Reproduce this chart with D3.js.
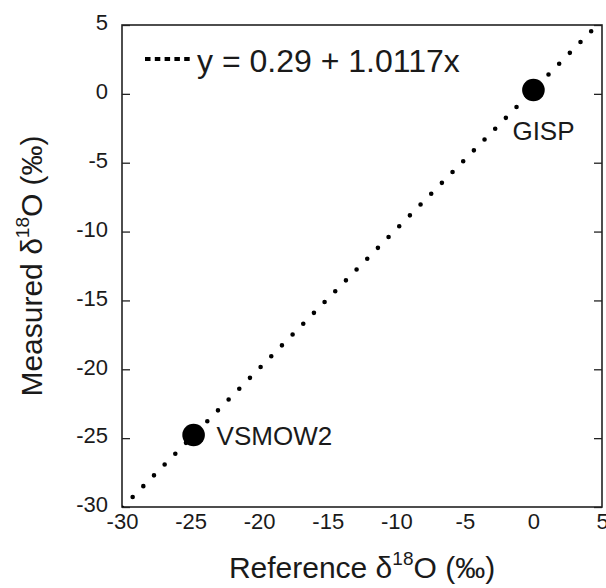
<!DOCTYPE html>
<html lang="en">
<head>
    <meta charset="UTF-8">
    <title>Measured vs reference d18O</title>
    <style>
        body { margin: 0; background: #fff; }
        text { font-family: "Liberation Sans", Arial, sans-serif; fill: #1a1a1a; }
    </style>
</head>
<body>
    <script src="https://d3js.org/d3.v7.min.js"></script>
    <div id="my_dataviz"></div>
    <script>
        // Data
        var sampleNames = ["VSMOW2", "GISP"]
        var referenceValues = [-24.78, 0.0]
        var measuredValues = [-24.77, 0.28]
        var fitIntercept = 0.29
        var fitSlope = 1.0117
        var tickValues = [-30, -25, -20, -15, -10, -5, 0, 5]

        var width = 606
        var height = 588
        var margin = { left: 122, top: 25, right: 4, bottom: 81 }
        var innerW = width - margin.left - margin.right
        var innerH = height - margin.top - margin.bottom

        var svg = d3.select("#my_dataviz")
            .append("svg")
            .attr("width", width)
            .attr("height", height)

        var g = svg.append("g")
            .attr("transform", "translate(" + margin.left + "," + margin.top + ")")

        var x = d3.scaleLinear().domain([-30, 5]).range([0, innerW])
        var y = d3.scaleLinear().domain([-30, 5]).range([innerH, 0])

        // clip for the fit line
        svg.append("defs").append("clipPath").attr("id", "plotclip")
            .append("rect").attr("width", innerW).attr("height", innerH)

        // plain hyphen minus like the original
        var fmt = function (d) { return String(d) }

        var axisStyle = function (sel) {
            sel.select(".domain").remove()
            sel.selectAll("line").attr("stroke", "#222").attr("stroke-width", 1.3)
            sel.selectAll("text").style("font-size", "22px").style("font-family", "Liberation Sans, Arial, sans-serif").attr("fill", "#1a1a1a")
        }

        g.append("g")
            .call(d3.axisLeft(y).tickValues(tickValues).tickSize(-8).tickPadding(14).tickFormat(fmt))
            .call(axisStyle)
            .selectAll("text").attr("dy", "0.22em")

        g.append("g")
            .attr("transform", "translate(" + innerW + ",0)")
            .call(d3.axisRight(y).tickValues(tickValues).tickSize(-8).tickFormat(""))
            .call(axisStyle)

        g.append("g")
            .attr("transform", "translate(0," + innerH + ")")
            .call(d3.axisBottom(x).tickValues(tickValues).tickSize(0).tickPadding(6).tickFormat(fmt))
            .call(axisStyle)

        // frame
        g.append("rect")
            .attr("width", innerW)
            .attr("height", innerH)
            .attr("fill", "none")
            .attr("stroke", "#222")
            .attr("stroke-width", 1.6)

        // fit line (dotted)
        var lineData = [-30, 5].map(function (v) { return [v, fitIntercept + fitSlope * v] })
        g.append("path")
            .datum(lineData)
            .attr("clip-path", "url(#plotclip)")
            .attr("d", d3.line().x(function (d) { return x(d[0]) }).y(function (d) { return y(d[1]) }))
            .attr("fill", "none")
            .attr("stroke", "#000")
            .attr("stroke-width", 4.6)
            .attr("stroke-linecap", "round")
            .attr("stroke-dasharray", "0,15.2")

        // points
        var points = sampleNames.map(function (n, i) {
            return { name: n, ref: referenceValues[i], meas: measuredValues[i] }
        })

        g.selectAll("circle.pt")
            .data(points)
            .enter()
            .append("circle")
            .attr("class", "pt")
            .attr("cx", function (d) { return x(d.ref) })
            .attr("cy", function (d) { return y(d.meas) })
            .attr("r", 11.3)
            .attr("fill", "#000")

        // point labels
        var labelOffset = { VSMOW2: [23, 10], GISP: [-21, 50] }
        g.selectAll("text.pt")
            .data(points)
            .enter()
            .append("text")
            .attr("class", "pt")
            .attr("x", function (d) { return x(d.ref) + labelOffset[d.name][0] })
            .attr("y", function (d) { return y(d.meas) + labelOffset[d.name][1] })
            .style("font-size", "26px")
            .text(function (d) { return d.name })

        // legend
        svg.append("line")
            .attr("x1", 145).attr("x2", 194)
            .attr("y1", 59).attr("y2", 59)
            .attr("stroke", "#000")
            .attr("stroke-width", 4)
            .attr("stroke-dasharray", "5.5,4.3")

        svg.append("text")
            .attr("x", 197)
            .attr("y", 72)
            .style("font-size", "32px")
            .text("y = " + fitIntercept + " + " + fitSlope + "x")

        // axis titles
        var xTitle = svg.append("text")
            .attr("x", margin.left + innerW / 2)
            .attr("y", 578)
            .attr("text-anchor", "middle")
            .style("font-size", "30px")
        xTitle.append("tspan").text("Reference \u03b4")
        xTitle.append("tspan").attr("dy", -13).style("font-size", "19px").text("18")
        xTitle.append("tspan").attr("dy", 13).text("O (\u2030)")

        var yTitle = svg.append("text")
            .attr("transform", "translate(42," + (margin.top + innerH / 2) + ") rotate(-90)")
            .attr("text-anchor", "middle")
            .style("font-size", "30px")
        yTitle.append("tspan").text("Measured \u03b4")
        yTitle.append("tspan").attr("dy", -13).style("font-size", "19px").text("18")
        yTitle.append("tspan").attr("dy", 13).text("O (\u2030)")
    </script>
</body>
</html>
